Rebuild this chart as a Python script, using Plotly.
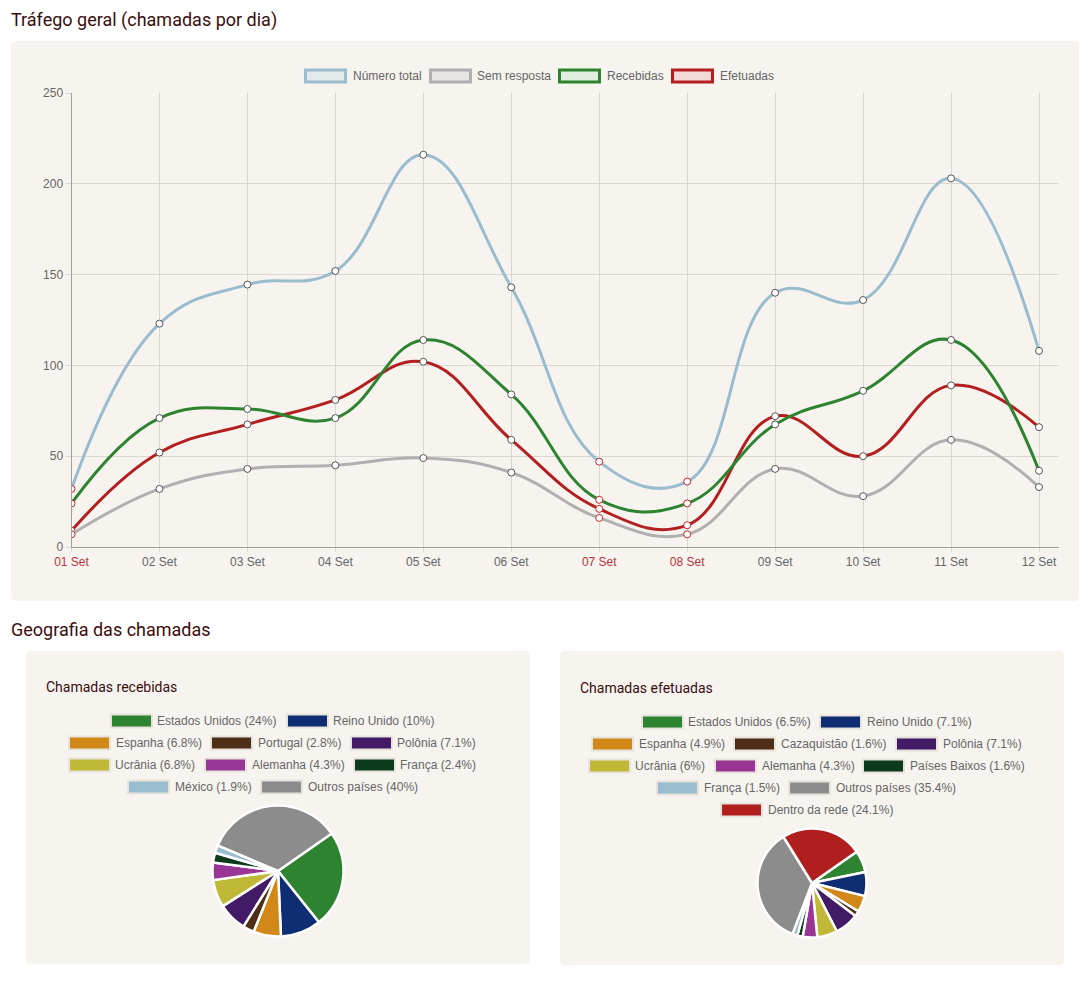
import plotly.graph_objects as go

LARGURA = 1090
ALTURA = 982

# %%
# dados do grafico de linhas
dias = ["01 Set", "02 Set", "03 Set", "04 Set", "05 Set", "06 Set",
        "07 Set", "08 Set", "09 Set", "10 Set", "11 Set", "12 Set"]
fim_de_semana = ["01 Set", "07 Set", "08 Set"]
numero_total = [32, 123, 144.5, 152, 216, 143, 47, 36, 140, 136, 203, 108]
sem_resposta = [7, 32, 43, 45, 49, 41, 16, 7, 43, 28, 59, 33]
recebidas = [24, 71, 76, 71, 114, 84, 26, 24, 67.5, 86, 114, 42]
efetuadas = [9, 52, 67.5, 81, 102, 59, 21, 12, 72, 50, 89, 66]

# dados das pizzas
# o texto da legenda diz 40% mas a fatia desenhada de "Outros paises" mede 33.9
paises_recebidas = ["Estados Unidos (24%)", "Reino Unido (10%)", "Espanha (6.8%)", "Portugal (2.8%)",
                    "Polônia (7.1%)", "Ucrânia (6.8%)", "Alemanha (4.3%)", "França (2.4%)",
                    "México (1.9%)", "Outros países (40%)"]
valores_recebidas = [24, 10, 6.8, 2.8, 7.1, 6.8, 4.3, 2.4, 1.9, 33.9]

paises_efetuadas = ["Estados Unidos (6.5%)", "Reino Unido (7.1%)", "Espanha (4.9%)", "Cazaquistão (1.6%)",
                    "Polônia (7.1%)", "Ucrânia (6%)", "Alemanha (4.3%)", "Países Baixos (1.6%)",
                    "França (1.5%)", "Outros países (35.4%)", "Dentro da rede (24.1%)"]
valores_efetuadas = [6.5, 7.1, 4.9, 1.6, 7.1, 6, 4.3, 1.6, 1.5, 35.4, 24.1]

# %%
# estilos
cores_pizza = ["#2d832f", "#0e2d72", "#d28818", "#4e2e16", "#421a66", "#c0b937",
               "#983595", "#0d3a1a", "#9abccf", "#8c8c8c", "#b01e1e"]
AZUL, CINZA, VERDE, VERMELHO = "#9abccf", "#b0b0b0", "#2d832f", "#b31e1e"
FUNDO = "#f7f4ef"
TITULO = "#3a0d0d"
TEXTO = "#666666"
GRADE = "#dbd7d0"


def px(x):
    return x / LARGURA


def py(y):
    return 1 - y / ALTURA


def painel(x0, y0, x1, y1, r=5):
    caminho = (f"M {px(x0 + r)} {py(y0)} L {px(x1 - r)} {py(y0)} Q {px(x1)} {py(y0)} {px(x1)} {py(y0 + r)} "
               f"L {px(x1)} {py(y1 - r)} Q {px(x1)} {py(y1)} {px(x1 - r)} {py(y1)} "
               f"L {px(x0 + r)} {py(y1)} Q {px(x0)} {py(y1)} {px(x0)} {py(y1 - r)} "
               f"L {px(x0)} {py(y0 + r)} Q {px(x0)} {py(y0)} {px(x0 + r)} {py(y0)} Z")
    return dict(type="path", path=caminho, xref="paper", yref="paper", layer="below",
                fillcolor=FUNDO, line_width=0)


def caixa(x0, y, cor, borda, w=41, h=13, lw=2):
    return dict(type="rect", xref="paper", yref="paper", layer="below",
                x0=px(x0), x1=px(x0 + w), y0=py(y + h / 2), y1=py(y - h / 2),
                fillcolor=cor, line=dict(color=borda, width=lw))


def texto(x, y, t, size=12, cor=TEXTO, fonte="Liberation Sans"):
    return dict(x=px(x), y=py(y), text=t, xref="paper", yref="paper", xanchor="left", yanchor="middle",
                showarrow=False, font=dict(size=size, color=cor, family=fonte), borderpad=0)


# %%
fig = go.Figure()

series = [("Número total", numero_total, AZUL), ("Sem resposta", sem_resposta, CINZA),
          ("Recebidas", recebidas, VERDE), ("Efetuadas", efetuadas, VERMELHO)]

bordas = ["#c0272d" if d in fim_de_semana else "#555555" for d in dias]

# chart.js pinta a primeira serie por cima, por isso a ordem invertida
for nome, valores, cor in reversed(series):
    fig.add_trace(go.Scatter(
        x=dias, y=valores, name=nome, mode="lines+markers",
        line=dict(color=cor, width=3, shape="spline", smoothing=1.2),
        marker=dict(size=7, color="white", line=dict(color=bordas, width=1)),
        showlegend=False,
    ))

pizza_comum = dict(sort=False, direction="clockwise", rotation=55, textinfo="none", showlegend=False,
                   marker=dict(colors=cores_pizza, line=dict(color="white", width=2.5)))
fig.add_trace(go.Pie(labels=paises_recebidas, values=valores_recebidas,
                     domain=dict(x=[px(212.5), px(343.5)], y=[py(936.5), py(805.5)]), **pizza_comum))
fig.add_trace(go.Pie(labels=paises_efetuadas, values=valores_efetuadas,
                     domain=dict(x=[px(757.5), px(866.5)], y=[py(937.5), py(828.5)]), **pizza_comum))

# %%
# paineis, titulos e legendas
formas = [painel(11, 41, 1079, 601), painel(26, 651, 530, 964), painel(560, 651, 1064, 965)]
textos = [
    texto(10, 20, "Tráfego geral (chamadas por dia)", 18, TITULO, "Roboto"),
    texto(10, 629, "Geografia das chamadas", 18, TITULO, "Roboto"),
    texto(45, 687, "Chamadas recebidas", 14, TITULO, "Roboto"),
    texto(579, 688, "Chamadas efetuadas", 14, TITULO, "Roboto"),
]

legenda_x = [(305.5, 352), (430.5, 476), (559.5, 606), (672.5, 719)]
fundos_legenda = ["#e4eaeb", "#e7e5e1", "#e1edde", "#f3dad6"]
for (cx, tx), (nome, _, cor), fundo in zip(legenda_x, series, fundos_legenda):
    formas.append(caixa(cx, 76, fundo, cor, w=40, h=12, lw=3))
    textos.append(texto(tx, 75.5, nome))

BORDA_PIZZA = "#e6e3dc"
pos_recebidas = [(111, 156, 721), (287, 332, 721),
                 (69, 115, 743), (211, 257, 743), (351, 396, 743),
                 (69, 114, 765), (205, 251, 765), (354, 399, 765),
                 (128, 174, 787), (261, 307, 787)]
pos_efetuadas = [(642, 687, 722), (820, 866, 722),
                 (592, 638, 744), (734, 780, 744), (896, 942, 744),
                 (589, 634, 766), (715, 761, 766), (863, 909, 766),
                 (657, 703, 788), (789, 835, 788),
                 (721, 767, 810)]
for nomes, posicoes in [(paises_recebidas, pos_recebidas), (paises_efetuadas, pos_efetuadas)]:
    for nome, (cx, tx, y), cor in zip(nomes, posicoes, cores_pizza):
        formas.append(caixa(cx, y, cor, BORDA_PIZZA))
        textos.append(texto(tx, y - 0.5, nome))

# rotulos em vermelho nos dias de fim de semana
rotulos = [f'<span style="color:#b8333a">{d}</span>' if d in fim_de_semana else d for d in dias]

fig.update_layout(
    width=LARGURA, height=ALTURA,
    margin=dict(l=0, r=0, t=0, b=0),
    paper_bgcolor="white", plot_bgcolor="rgba(0,0,0,0)",
    font=dict(family="Liberation Sans", size=12, color=TEXTO),
    shapes=formas, annotations=textos,
    xaxis=dict(domain=[px(71.5), px(1059)], range=[0, 11 + 20 / 88], automargin=False,
               tickmode="array", tickvals=list(range(12)), ticktext=rotulos,
               showgrid=True, gridcolor=GRADE, gridwidth=1, ticks="outside", ticklen=4, tickcolor=GRADE,
               showline=True, linecolor="#a3a09b", linewidth=1, zeroline=False),
    yaxis=dict(domain=[py(547), py(93)], range=[0, 250], dtick=50, automargin=False,
               showgrid=True, gridcolor=GRADE, gridwidth=1, ticks="outside", ticklen=5, tickcolor=GRADE,
               showline=True, linecolor="#a3a09b", linewidth=1, zeroline=False),
)

fig.write_html("out.html", config=dict(displayModeBar=False),
               post_script="document.body.style.margin='0';document.body.style.overflow='hidden';")
